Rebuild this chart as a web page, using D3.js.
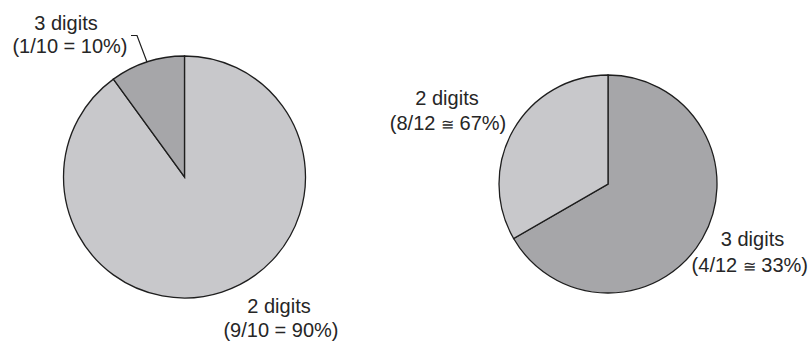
<!DOCTYPE html>
<html>
<head>
<meta charset="utf-8">
<script src="https://cdn.jsdelivr.net/npm/d3@7"></script>
<style>
  html, body { margin: 0; padding: 0; background: #fff; }
  svg { display: block; }
  text { font-family: "Liberation Sans", Arial, Helvetica, sans-serif; fill: #262626; }
</style>
</head>
<body>
<svg id="chart" width="810" height="342"></svg>
<script>
// ---- data ----
const leftCategories = ["2 digits", "3 digits"];
const leftValues = [9, 1];
const leftLabels = [["2 digits", "(9/10 = 90%)"], ["3 digits", "(1/10 = 10%)"]];

const rightCategories = ["2 digits", "3 digits"];
const rightValues = [8, 4];
const rightLabels = [["2 digits", "(8/12 \u2245 67%)"], ["3 digits", "(4/12 \u2245 33%)"]];

// ---- layout ----
const LIGHT = "#c8c8cb", DARK = "#a6a6a9";
const svg = d3.select("#chart");
const pie = d3.pie().sort(null).value(d => d);

function drawPie(cx, cy, r, values, colors) {
  const g = svg.append("g").attr("transform", `translate(${cx},${cy})`);
  const arc = d3.arc().innerRadius(0).outerRadius(r);
  g.selectAll("path").data(pie(values)).join("path")
    .attr("d", arc)
    .attr("fill", (d, i) => colors[i])
    .attr("stroke", "#1e1e1e")
    .attr("stroke-width", 1.3)
    .attr("stroke-linejoin", "miter");
  return g;
}

function drawLabel(lines, xs, ys, anchors) {
  lines.forEach((t, i) => {
    const txt = svg.append("text")
      .attr("x", xs[i]).attr("y", ys[i])
      .attr("text-anchor", anchors ? anchors[i] : "middle")
      .attr("font-size", 20);
    // render the congruence sign slightly smaller so it matches the reference width
    const parts = t.split("\u2245");
    parts.forEach((p, j) => {
      txt.append("tspan").text(p);
      if (j < parts.length - 1) txt.append("tspan").attr("font-size", 16).text("\u2245");
    });
  });
}

// Left pie
drawPie(184.5, 177, 121, leftValues, [LIGHT, DARK]);
drawLabel(leftLabels[0], [279, 281], [313, 337]);
drawLabel(leftLabels[1], [66, 70], [29.5, 53]);
// leader line for 3 digits
svg.append("path")
  .attr("d", d3.line()([[131, 35.5], [137, 35.5], [147, 62]]))
  .attr("fill", "none").attr("stroke", "#1e1e1e").attr("stroke-width", 1.2);

// Right pie
drawPie(608, 184, 109, rightValues, [DARK, LIGHT]);
drawLabel(rightLabels[0], [447, 448], [105, 129.5]);
drawLabel(rightLabels[1], [752.5, 808], [246, 272], ["middle", "end"]);
</script>
</body>
</html>
